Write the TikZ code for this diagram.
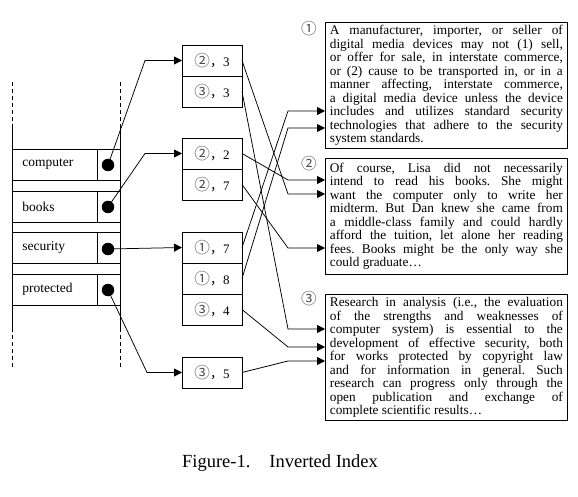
\documentclass[tikz,border=0pt]{standalone}
\usepackage{fontspec}
\setmainfont{Liberation Serif}
\newfontfamily\cjk[Scale=1.2]{Noto Sans CJK SC}
\newfontfamily\cjkcomma{Noto Sans CJK SC}
\usetikzlibrary{positioning,arrows.meta}
\frenchspacing

\newcommand{\cnum}[1]{{\cjk\color{black!70}#1}}
\newcommand{\entry}[2]{\cnum{#1}{\cjkcomma ，}#2}

\tikzset{
	keylabel/.style={anchor=west, inner sep=0pt, font=\fontsize{13.5}{15}\selectfont},
	ptrdot/.style={circle, fill, inner sep=0pt, minimum size=12.5pt},
	postcell/.style={draw, minimum width=60pt, minimum height=31pt, inner sep=0pt, outer sep=0pt, font=\fontsize{13}{15}\selectfont},
	docbox/.style={draw, anchor=north west, text width=233pt, inner xsep=4.5pt, inner ysep=0pt, align=justify, font=\fontsize{13.3}{13.5}\selectfont},
	docnum/.style={inner sep=0pt, font=\fontsize{13}{13}\selectfont},
}

\begin{document}
\begin{tikzpicture}[x=1pt, y=-1pt, line width=0.75pt, >={Triangle[length=8pt,width=8pt]}]
	\useasboundingbox (0,0) rectangle (578,497);
	% dictionary column
	\draw[dash pattern=on 4pt off 3pt] (12,82) -- (12,127);
	\draw[dash pattern=on 4pt off 3pt] (120,82) -- (120,127);
	\draw (12,127) -- (12,328);
	\draw (120,127) -- (120,328);
	\draw[dash pattern=on 4pt off 3pt] (12,328) -- (12,367);
	\draw[dash pattern=on 4pt off 3pt] (120,328) -- (120,367);
	\draw (12,149) rectangle (120,180);	\draw (97,149) -- (97,180);
	\draw (12,191) rectangle (120,222);	\draw (97,191) -- (97,222);
	\draw (12,232) rectangle (120,263);	\draw (97,232) -- (97,263);
	\draw (12,274) rectangle (120,305);	\draw (97,274) -- (97,305);
	\node[keylabel] (computer) at (22,164.5) {computer};
	\node[keylabel] (books) at (22,206.5) {books};
	\node[keylabel] (security) at (22,247.5) {security};
	\node[keylabel] (protected) at (22,289.5) {protected};
	\node[ptrdot] (dcomputer) at (108,165) {};
	\node[ptrdot] (dbooks) at (108,207) {};
	\node[ptrdot] (dsecurity) at (108,249) {};
	\node[ptrdot] (dprotected) at (108,290) {};

	% posting lists
	\node[postcell] (p23) at (212,60.5) {\entry{②}{3}};
	\node[postcell, below=0pt of p23] (p33) {\entry{③}{3}};
	\node[postcell] (p22) at (212,153.5) {\entry{②}{2}};
	\node[postcell, below=0pt of p22] (p27) {\entry{②}{7}};
	\node[postcell] (p17) at (212,247.5) {\entry{①}{7}};
	\node[postcell, below=0pt of p17] (p18) {\entry{①}{8}};
	\node[postcell, below=0pt of p18] (p34) {\entry{③}{4}};
	\node[postcell] (p35) at (212,372.5) {\entry{③}{5}};

	% documents
	\node[docbox, minimum height=126pt] (d1) at (325,22) {A manufacturer, importer, or seller of\linebreak
		digital media devices may not (1) sell,\linebreak
		or offer for sale, in interstate commerce,\linebreak
		or (2) cause to be transported in, or in a\linebreak
		manner affecting, interstate commerce,\linebreak
		a digital media device unless the device\linebreak
		includes and utilizes standard security\linebreak
		technologies that adhere to the security\linebreak
		system standards.};
	\node[docbox, minimum height=116pt] (d2) at (325,158) {Of course, Lisa did not necessarily\linebreak
		intend to read his books. She might\linebreak
		want the computer only to write her\linebreak
		midterm. But Dan knew she came from\linebreak
		a middle-class family and could hardly\linebreak
		afford the tuition, let alone her reading\linebreak
		fees. Books might be the only way she\linebreak
		could graduate\dots};
	\node[docbox, minimum height=126pt] (d3) at (325,294) {Research in analysis (i.e., the evaluation\linebreak
		of the strengths and weaknesses of\linebreak
		computer system) is essential to the\linebreak
		development of effective security, both\linebreak
		for works protected by copyright law\linebreak
		and for information in general. Such\linebreak
		research can progress only through the\linebreak
		open publication and exchange of\linebreak
		complete scientific results\dots};
	\node[docnum] (n1) at (309,28.5) {\cnum{①}};
	\node[docnum] (n2) at (309,164) {\cnum{②}};
	\node[docnum] (n3) at (309,299) {\cnum{③}};

	\coordinate (t1a) at ([yshift=-89pt]d1.north west);
	\coordinate (t1b) at ([yshift=-106pt]d1.north west);
	\coordinate (t2a) at ([yshift=-22pt]d2.north west);
	\coordinate (t2b) at ([yshift=-36pt]d2.north west);
	\coordinate (t2c) at ([yshift=-90pt]d2.north west);
	\coordinate (t3a) at ([yshift=-35pt]d3.north west);
	\coordinate (t3b) at ([yshift=-53pt]d3.north west);
	\coordinate (t3c) at ([yshift=-67pt]d3.north west);

	% terms to postings
	\draw[->] (dcomputer.center) -- ([xshift=-37pt]p23.west) -- (p23.west);
	\draw[->] (dbooks.center) -- ([xshift=-37pt]p22.west) -- (p22.west);
	\draw[->] (dsecurity.center) -- (p17.west);
	\draw[->] (dprotected.center) -- ([xshift=-35pt]p35.west) -- (p35.west);

	% postings to documents
	\draw[->] (p23.east) -- ([xshift=-37pt]t2b) -- (t2b);
	\draw[->] (p33.east) -- ([xshift=-37pt]t3a) -- (t3a);
	\draw[->] (p22.east) -- ([xshift=-37pt]t2a) -- (t2a);
	\draw[->] (p27.east) -- ([xshift=-37pt]t2c) -- (t2c);
	\draw[->] (p17.east) -- ([xshift=-37pt]t1a) -- (t1a);
	\draw[->] (p18.east) -- ([xshift=-37pt]t1b) -- (t1b);
	\draw[->] (p34.east) -- ([xshift=-37pt]t3b) -- (t3b);
	\draw[->] (p35.east) -- ([xshift=-37pt]t3c) -- (t3c);

	\node[font=\fontsize{18.5}{20}\selectfont] (caption) at (280,463) {Figure-1.\hspace{19pt}Inverted Index};
\end{tikzpicture}
\end{document}
